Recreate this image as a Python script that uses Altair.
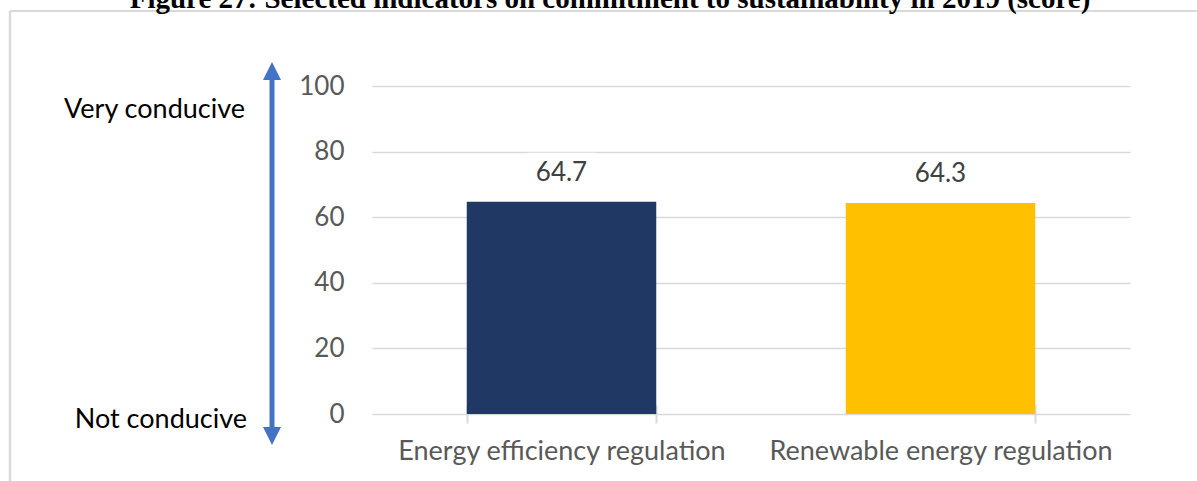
import altair as alt
import pandas as pd

# Scores per regulation indicator
categories = ["Energy efficiency regulation", "Renewable energy regulation"]
scores = [64.7, 64.3]
bar_colors = ["#203864", "#FFC000"]
y_ticks = [0, 20, 40, 60, 80, 100]

title_text = "Figure 27: Selected indicators on commitment to sustainability in 2019 (score)"
top_label = "Very conducive"
bottom_label = "Not conducive"

LABEL_FONT = "Lato"
FS = 26
GRID = "#d9d9d9"
ARROW = "#4472C4"

df = pd.DataFrame({"indicator": categories, "score": scores})
one = pd.DataFrame({"k": [0]})

x_enc = alt.X(
    "indicator:N",
    sort=categories,
    scale=alt.Scale(paddingInner=0.5, paddingOuter=0.25),
    axis=alt.Axis(
        title=None,
        labelAngle=0,
        labelLimit=0,
        domain=False,
        grid=False,
        tickBand="extent",
        tickSize=18,
        offset=-9,
        tickColor=GRID,
        tickWidth=2,
        labelFont=LABEL_FONT,
        labelFontSize=FS + 1,
        labelColor="#595959",
        labelPadding=15,
    ),
)
y_enc = alt.Y(
    "score:Q",
    scale=alt.Scale(domain=[0, 100], nice=False),
    axis=alt.Axis(
        title=None,
        values=y_ticks,
        domain=False,
        ticks=False,
        labelPadding=28,
        labelFont=LABEL_FONT,
        labelFontSize=FS,
        labelColor="#595959",
        gridColor=GRID,
        gridWidth=1.5,
    ),
)

base = alt.Chart(df).encode(x=x_enc, y=y_enc)

bars = base.mark_bar().encode(
    color=alt.Color("indicator:N", sort=categories,
                    scale=alt.Scale(domain=categories, range=bar_colors),
                    legend=None)
)

# white box behind each value label, interrupting the gridline
label_box = base.mark_point(
    shape="M-1.7,-1L1.7,-1L1.7,1L-1.7,1Z", filled=True, fill="white",
    opacity=1, size=1600, yOffset=-29, strokeWidth=0,
)
value_labels = base.mark_text(
    font=LABEL_FONT, fontSize=FS, color="#404040", yOffset=-29, baseline="middle"
).encode(text=alt.Text("score:Q", format=".1f"))

# vertical double-headed arrow on the left
shaft = alt.Chart(one).mark_rule(color=ARROW, strokeWidth=5).encode(
    x=alt.value(-100), y=alt.value(-8), y2=alt.value(344)
)
head_up = alt.Chart(one).mark_point(
    shape="M0,-1L1,1L-1,1Z", filled=True, color=ARROW, opacity=1, size=324
).encode(x=alt.value(-100), y=alt.value(-15))
head_down = alt.Chart(one).mark_point(
    shape="M0,1L1,-1L-1,-1Z", filled=True, color=ARROW, opacity=1, size=324
).encode(x=alt.value(-100), y=alt.value(350))

side_top = alt.Chart(one).mark_text(
    text=top_label, font=LABEL_FONT, fontSize=FS + 1, color="black",
    align="right", baseline="middle"
).encode(x=alt.value(-127), y=alt.value(24))
side_bottom = alt.Chart(one).mark_text(
    text=bottom_label, font=LABEL_FONT, fontSize=FS + 1, color="black",
    align="right", baseline="middle"
).encode(x=alt.value(-125), y=alt.value(334))

# frame lines and heading
frame_top = alt.Chart(one).mark_rule(color=GRID, strokeWidth=2).encode(
    x=alt.value(-362), x2=alt.value(830), y=alt.value(-75)
)
frame_left = alt.Chart(one).mark_rule(color=GRID, strokeWidth=2.5).encode(
    x=alt.value(-362), y=alt.value(-75), y2=alt.value(400)
)
heading = alt.Chart(one).mark_text(
    text=title_text, font="Liberation Serif", fontWeight="bold", fontSize=29,
    color="black", align="center", baseline="alphabetic"
).encode(x=alt.value(238), y=alt.value(-78))

chart = alt.layer(
    frame_top, frame_left, heading,
    bars, label_box, value_labels,
    shaft, head_up, head_down, side_top, side_bottom,
).properties(
    width=758,
    height=328,
    background="white",
    autosize=alt.AutoSizeParams(type="none"),
    padding={"left": 372, "top": 86, "right": 67, "bottom": 67},
).configure_view(strokeWidth=0, stroke="transparent")

chart.save("out.html", embed_options={"renderer": "svg", "actions": False})
